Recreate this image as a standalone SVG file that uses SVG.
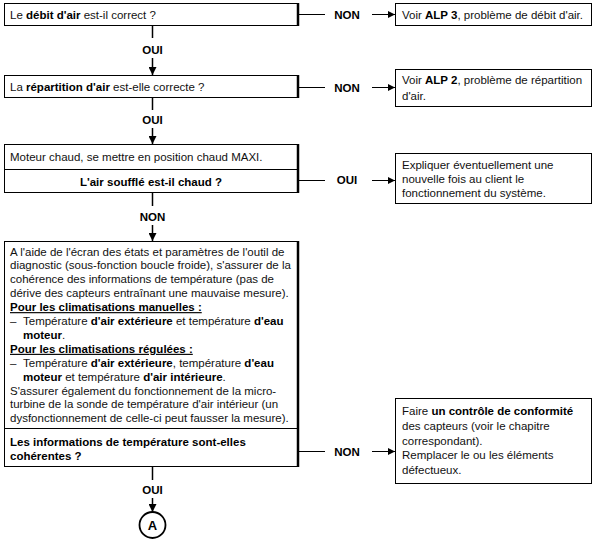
<svg xmlns="http://www.w3.org/2000/svg" width="594" height="547" viewBox="0 0 594 547">
<defs>
<marker id="ah" viewBox="0 0 8 8" refX="8" refY="4" markerWidth="8" markerHeight="8" markerUnits="userSpaceOnUse" orient="auto"><path d="M0,0 L8,4 L0,8 Z" fill="#000"/></marker>
<marker id="ahs" viewBox="0 0 7 7" refX="7" refY="3.5" markerWidth="7" markerHeight="7" markerUnits="userSpaceOnUse" orient="auto"><path d="M0,0 L7,3.5 L0,7 Z" fill="#000"/></marker>
</defs>
<style>
text{font-family:"Liberation Sans",Arial,sans-serif;font-size:11.5px;fill:#111}
.b{font-weight:bold;fill:#000}
.lbl{font-weight:bold;font-size:11.5px;fill:#000;text-anchor:middle}
.box{fill:#fff;stroke:#000;stroke-width:1}
.edge{stroke:#000;stroke-width:2.5}
.ln{stroke:#000;stroke-width:1;fill:none}
.vl{stroke:#000;stroke-width:1.5;fill:none}
</style>
<rect width="594" height="547" fill="#fff"/>

<g id="q1">
<rect class="box" x="4.5" y="3.5" width="294" height="22"/>
<line class="edge" x1="298" y1="3" x2="298" y2="26"/>
<text x="10" y="19">Le <tspan class="b">débit d'air</tspan> est-il correct ?</text>
</g>
<g id="r1">
<rect class="box" x="395.5" y="3.5" width="196" height="22"/>
<text x="402" y="19">Voir <tspan class="b">ALP 3</tspan>, problème de débit d'air.</text>
</g>

<g id="q2">
<rect class="box" x="4.5" y="75.5" width="294" height="22"/>
<line class="edge" x1="298" y1="75" x2="298" y2="98"/>
<text x="10" y="91">La <tspan class="b">répartition d'air</tspan> est-elle correcte ?</text>
</g>
<g id="r2">
<rect class="box" x="395.5" y="69.5" width="196" height="37"/>
<text x="402" y="84">Voir <tspan class="b">ALP 2</tspan>, problème de répartition</text>
<text x="402" y="100">d'air.</text>
</g>

<g id="q3">
<rect class="box" x="4.5" y="144.5" width="294" height="48"/>
<line class="ln" x1="4.5" y1="169.5" x2="298" y2="169.5"/>
<line class="edge" x1="298" y1="144" x2="298" y2="193"/>
<text x="10" y="161">Moteur chaud, se mettre en position chaud MAXI.</text>
<text class="b" x="151" y="186" text-anchor="middle">L'air soufflé est-il chaud ?</text>
</g>
<g id="r3">
<rect class="box" x="395.5" y="153.5" width="196" height="50"/>
<text x="402" y="169">Expliquer éventuellement une</text>
<text x="402" y="183">nouvelle fois au client le</text>
<text x="402" y="197">fonctionnement du système.</text>
</g>

<g id="q4">
<rect class="box" x="4.5" y="241.5" width="294" height="225"/>
<line class="ln" x1="4.5" y1="428.5" x2="298" y2="428.5"/>
<line class="edge" x1="298" y1="241" x2="298" y2="467"/>
<text x="10" y="255.5">A l'aide de l'écran des états et paramètres de l'outil de</text>
<text x="10" y="269.4">diagnostic (sous-fonction boucle froide), s'assurer de la</text>
<text x="10" y="283.3">cohérence des informations de température (pas de</text>
<text x="10" y="297.2">dérive des capteurs entraînant une mauvaise mesure).</text>
<text class="b" x="10" y="311.1" text-decoration="underline">Pour les climatisations manuelles :</text>
<text x="10" y="325">–</text>
<text x="23" y="325">Température <tspan class="b">d'air extérieure</tspan> et température <tspan class="b">d'eau</tspan></text>
<text x="23" y="338.9"><tspan class="b">moteur</tspan>.</text>
<text class="b" x="10" y="352.8" text-decoration="underline">Pour les climatisations régulées :</text>
<text x="10" y="366.7">–</text>
<text x="23" y="366.7">Température <tspan class="b">d'air extérieure</tspan>, température <tspan class="b">d'eau</tspan></text>
<text x="23" y="380.6"><tspan class="b">moteur</tspan> et température <tspan class="b">d'air intérieure</tspan>.</text>
<text x="10" y="394.5">S'assurer également du fonctionnement de la micro-</text>
<text x="10" y="408.4">turbine de la sonde de température d'air intérieur (un</text>
<text x="10" y="422.3">dysfonctionnement de celle-ci peut fausser la mesure).</text>
<text class="b" x="10" y="445.5">Les informations de température sont-elles</text>
<text class="b" x="10" y="460">cohérentes ?</text>
</g>
<g id="r4">
<rect class="box" x="395.5" y="398.5" width="196" height="85"/>
<text x="402" y="415">Faire <tspan class="b">un contrôle de conformité</tspan></text>
<text x="402" y="430">des capteurs (voir le chapitre</text>
<text x="402" y="445">correspondant).</text>
<text x="402" y="459">Remplacer le ou les éléments</text>
<text x="402" y="474">défectueux.</text>
</g>

<g id="A">
<circle cx="152.5" cy="525" r="13" fill="#fff" stroke="#000" stroke-width="1.8"/>
<text class="lbl" x="152.5" y="530" style="font-size:13px">A</text>
</g>

<g id="connectors">
<line class="ln" x1="299" y1="14.5" x2="325" y2="14.5"/>
<text class="lbl" x="347" y="19">NON</text>
<line class="ln" x1="372" y1="14.5" x2="395" y2="14.5" marker-end="url(#ahs)"/>

<line class="vl" x1="152.5" y1="26" x2="152.5" y2="38"/>
<text class="lbl" x="152.5" y="54">OUI</text>
<line class="vl" x1="152.5" y1="58" x2="152.5" y2="75" marker-end="url(#ah)"/>

<line class="ln" x1="299" y1="87.5" x2="325" y2="87.5"/>
<text class="lbl" x="347" y="92">NON</text>
<line class="ln" x1="372" y1="87.5" x2="395" y2="87.5" marker-end="url(#ahs)"/>

<line class="vl" x1="152.5" y1="98" x2="152.5" y2="110"/>
<text class="lbl" x="152.5" y="124">OUI</text>
<line class="vl" x1="152.5" y1="128" x2="152.5" y2="144" marker-end="url(#ah)"/>

<line class="ln" x1="299" y1="180.5" x2="325" y2="180.5"/>
<text class="lbl" x="347" y="184">OUI</text>
<line class="ln" x1="372" y1="180.5" x2="395" y2="180.5" marker-end="url(#ahs)"/>

<line class="vl" x1="152.5" y1="193" x2="152.5" y2="206"/>
<text class="lbl" x="152.5" y="221">NON</text>
<line class="vl" x1="152.5" y1="225" x2="152.5" y2="241" marker-end="url(#ah)"/>

<line class="ln" x1="299" y1="451.5" x2="325" y2="451.5"/>
<text class="lbl" x="347" y="456">NON</text>
<line class="ln" x1="372" y1="451.5" x2="395" y2="451.5" marker-end="url(#ahs)"/>

<line class="vl" x1="152.5" y1="467" x2="152.5" y2="480"/>
<text class="lbl" x="152.5" y="494">OUI</text>
<line class="vl" x1="152.5" y1="498" x2="152.5" y2="512" marker-end="url(#ah)"/>
</g>
</svg>
